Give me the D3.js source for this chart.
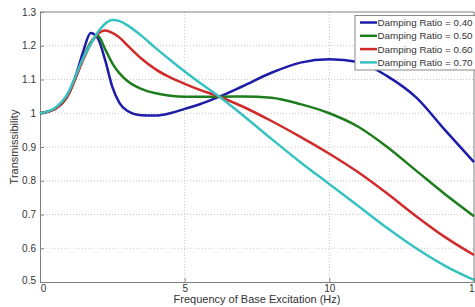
<!DOCTYPE html>
<html>
<head>
<meta charset="utf-8">
<script src="https://cdn.jsdelivr.net/npm/d3@7"></script>
<style>
	body { margin: 0; background: #fff; }
	svg text { font-family: Arial, "Liberation Sans", sans-serif; fill: #333; }
	.grid line { stroke: #c8c8c8; stroke-dasharray: 1,2; }
	.axis path, .axis line { stroke: #808080; }
</style>
</head>
<body>
<div id="chart"></div>
<script>
// frequency (Hz) shared by every series
const freq   = [0, 0.5, 1, 1.25, 1.5, 1.75, 2, 2.25, 2.5, 2.75, 3, 3.5, 4, 4.5, 5, 5.5, 6.2, 7, 8, 9, 10, 11, 12, 13, 14, 15];

const zeta40 = [1.0, 1.012, 1.06, 1.115, 1.185, 1.238, 1.222, 1.158, 1.078, 1.03, 1.008, 0.994, 0.993, 1.0, 1.013, 1.026, 1.049, 1.08, 1.12, 1.15, 1.16, 1.152, 1.11, 1.047, 0.95, 0.855];
const zeta50 = [1.0, 1.012, 1.058, 1.11, 1.165, 1.21, 1.23, 1.19, 1.148, 1.118, 1.097, 1.072, 1.059, 1.052, 1.049, 1.049, 1.049, 1.05, 1.046, 1.027, 1.0, 0.96, 0.9, 0.83, 0.76, 0.695];
const zeta60 = [1.0, 1.012, 1.058, 1.108, 1.16, 1.205, 1.235, 1.245, 1.238, 1.224, 1.203, 1.162, 1.13, 1.106, 1.087, 1.07, 1.049, 1.02, 0.977, 0.93, 0.88, 0.825, 0.762, 0.695, 0.633, 0.58];
const zeta70 = [1.0, 1.015, 1.065, 1.115, 1.165, 1.205, 1.24, 1.265, 1.276, 1.273, 1.262, 1.23, 1.193, 1.158, 1.124, 1.092, 1.049, 0.995, 0.924, 0.855, 0.79, 0.725, 0.66, 0.6, 0.548, 0.506];

const seriesNames  = ["Damping Ratio = 0.40", "Damping Ratio = 0.50", "Damping Ratio = 0.60", "Damping Ratio = 0.70"];
const seriesColors = ["#1c1ca8", "#1d7d1d", "#d02a2a", "#36c2c2"];
const xTicks = [0, 5, 10, 15];
const yTicks = [0.5, 0.6, 0.7, 0.8, 0.9, 1.0, 1.1, 1.2, 1.3];

let series = [zeta40, zeta50, zeta60, zeta70].map((vals, i) => ({
	name: seriesNames[i],
	color: seriesColors[i],
	points: vals.map((v, j) => [freq[j], v])
}));

let canvasWidth  = 475;
let canvasHeight = 307;
let margin = { top: 12, right: 1, bottom: 25, left: 40 };
let width  = canvasWidth - margin.left - margin.right;
let height = canvasHeight - margin.top - margin.bottom;

let x = d3.scaleLinear().domain([0, 15]).range([0, width]);
let y = d3.scaleLinear().domain([0.5, 1.3]).range([height, 0]);

let svg = d3.select("#chart").append("svg")
	.attr("width", canvasWidth)
	.attr("height", canvasHeight)
	.append("g")
		.attr("transform", "translate(" + margin.left + "," + margin.top + ")");

// dotted grid
svg.append("g").attr("class", "grid")
	.selectAll("line").data(xTicks.slice(1, -1))
	.enter().append("line")
		.attr("x1", (d) => x(d)).attr("x2", (d) => x(d))
		.attr("y1", 0).attr("y2", height);

svg.append("g").attr("class", "grid")
	.selectAll("line").data(yTicks.slice(1, -1))
	.enter().append("line")
		.attr("x1", 0).attr("x2", width)
		.attr("y1", (d) => y(d)).attr("y2", (d) => y(d));

// axes, ticks pointing inward like matlab
let xAxis = svg.append("g")
	.attr("class", "axis")
	.attr("transform", "translate(0," + height + ")")
	.call(d3.axisBottom(x).tickValues(xTicks).tickSize(-4).tickPadding(3).tickFormat(d3.format("d")));

let yAxis = svg.append("g")
	.attr("class", "axis")
	.call(d3.axisLeft(y).tickValues(yTicks).tickSize(-4).tickPadding(4)
		.tickFormat((d) => (d === 1 ? "1" : d3.format(".1f")(d))));

svg.selectAll(".axis text").attr("font-size", 10).attr("fill", "#333");
yAxis.select(".tick:first-of-type text").attr("dy", "0.1em");
xAxis.select(".tick:first-of-type text").attr("dx", "0.3em");

// box top and right
svg.append("line").attr("x1", 0).attr("x2", width).attr("y1", 0).attr("y2", 0).attr("stroke", "#808080");
svg.append("line").attr("x1", width).attr("x2", width).attr("y1", 0).attr("y2", height).attr("stroke", "#808080");

let line = d3.line()
	.x((d) => x(d[0]))
	.y((d) => y(d[1]))
	.curve(d3.curveMonotoneX);

svg.append("g").selectAll("path.curve")
	.data(series)
	.enter().append("path")
		.attr("class", "curve")
		.attr("fill", "none")
		.attr("stroke", (d) => d.color)
		.attr("stroke-width", 2.5)
		.attr("d", (d) => line(d.points));

// legend
let legend = svg.append("g").attr("transform", "translate(315,3.5)");
legend.append("rect")
	.attr("width", 125).attr("height", 54.5)
	.attr("fill", "#fff").attr("stroke", "#888");

let item = legend.selectAll("g.item")
	.data(series)
	.enter().append("g")
		.attr("class", "item")
		.attr("transform", (d, i) => "translate(0," + (7 + i * 13.3) + ")");

item.append("line")
	.attr("x1", 5).attr("x2", 22)
	.attr("stroke", (d) => d.color)
	.attr("stroke-width", 2.5);

item.append("text")
	.attr("x", 22.5).attr("dy", "0.35em")
	.attr("font-size", 9.8)
	.text((d) => d.name);

// axis titles
svg.append("text")
	.attr("x", width / 2).attr("y", height + 21)
	.attr("text-anchor", "middle")
	.attr("font-size", 11)
	.text("Frequency of Base Excitation (Hz)");

svg.append("text")
	.attr("transform", "translate(-22," + (height / 2) + ") rotate(-90)")
	.attr("text-anchor", "middle")
	.attr("font-size", 11)
	.text("Transmissibility");
</script>
</body>
</html>
